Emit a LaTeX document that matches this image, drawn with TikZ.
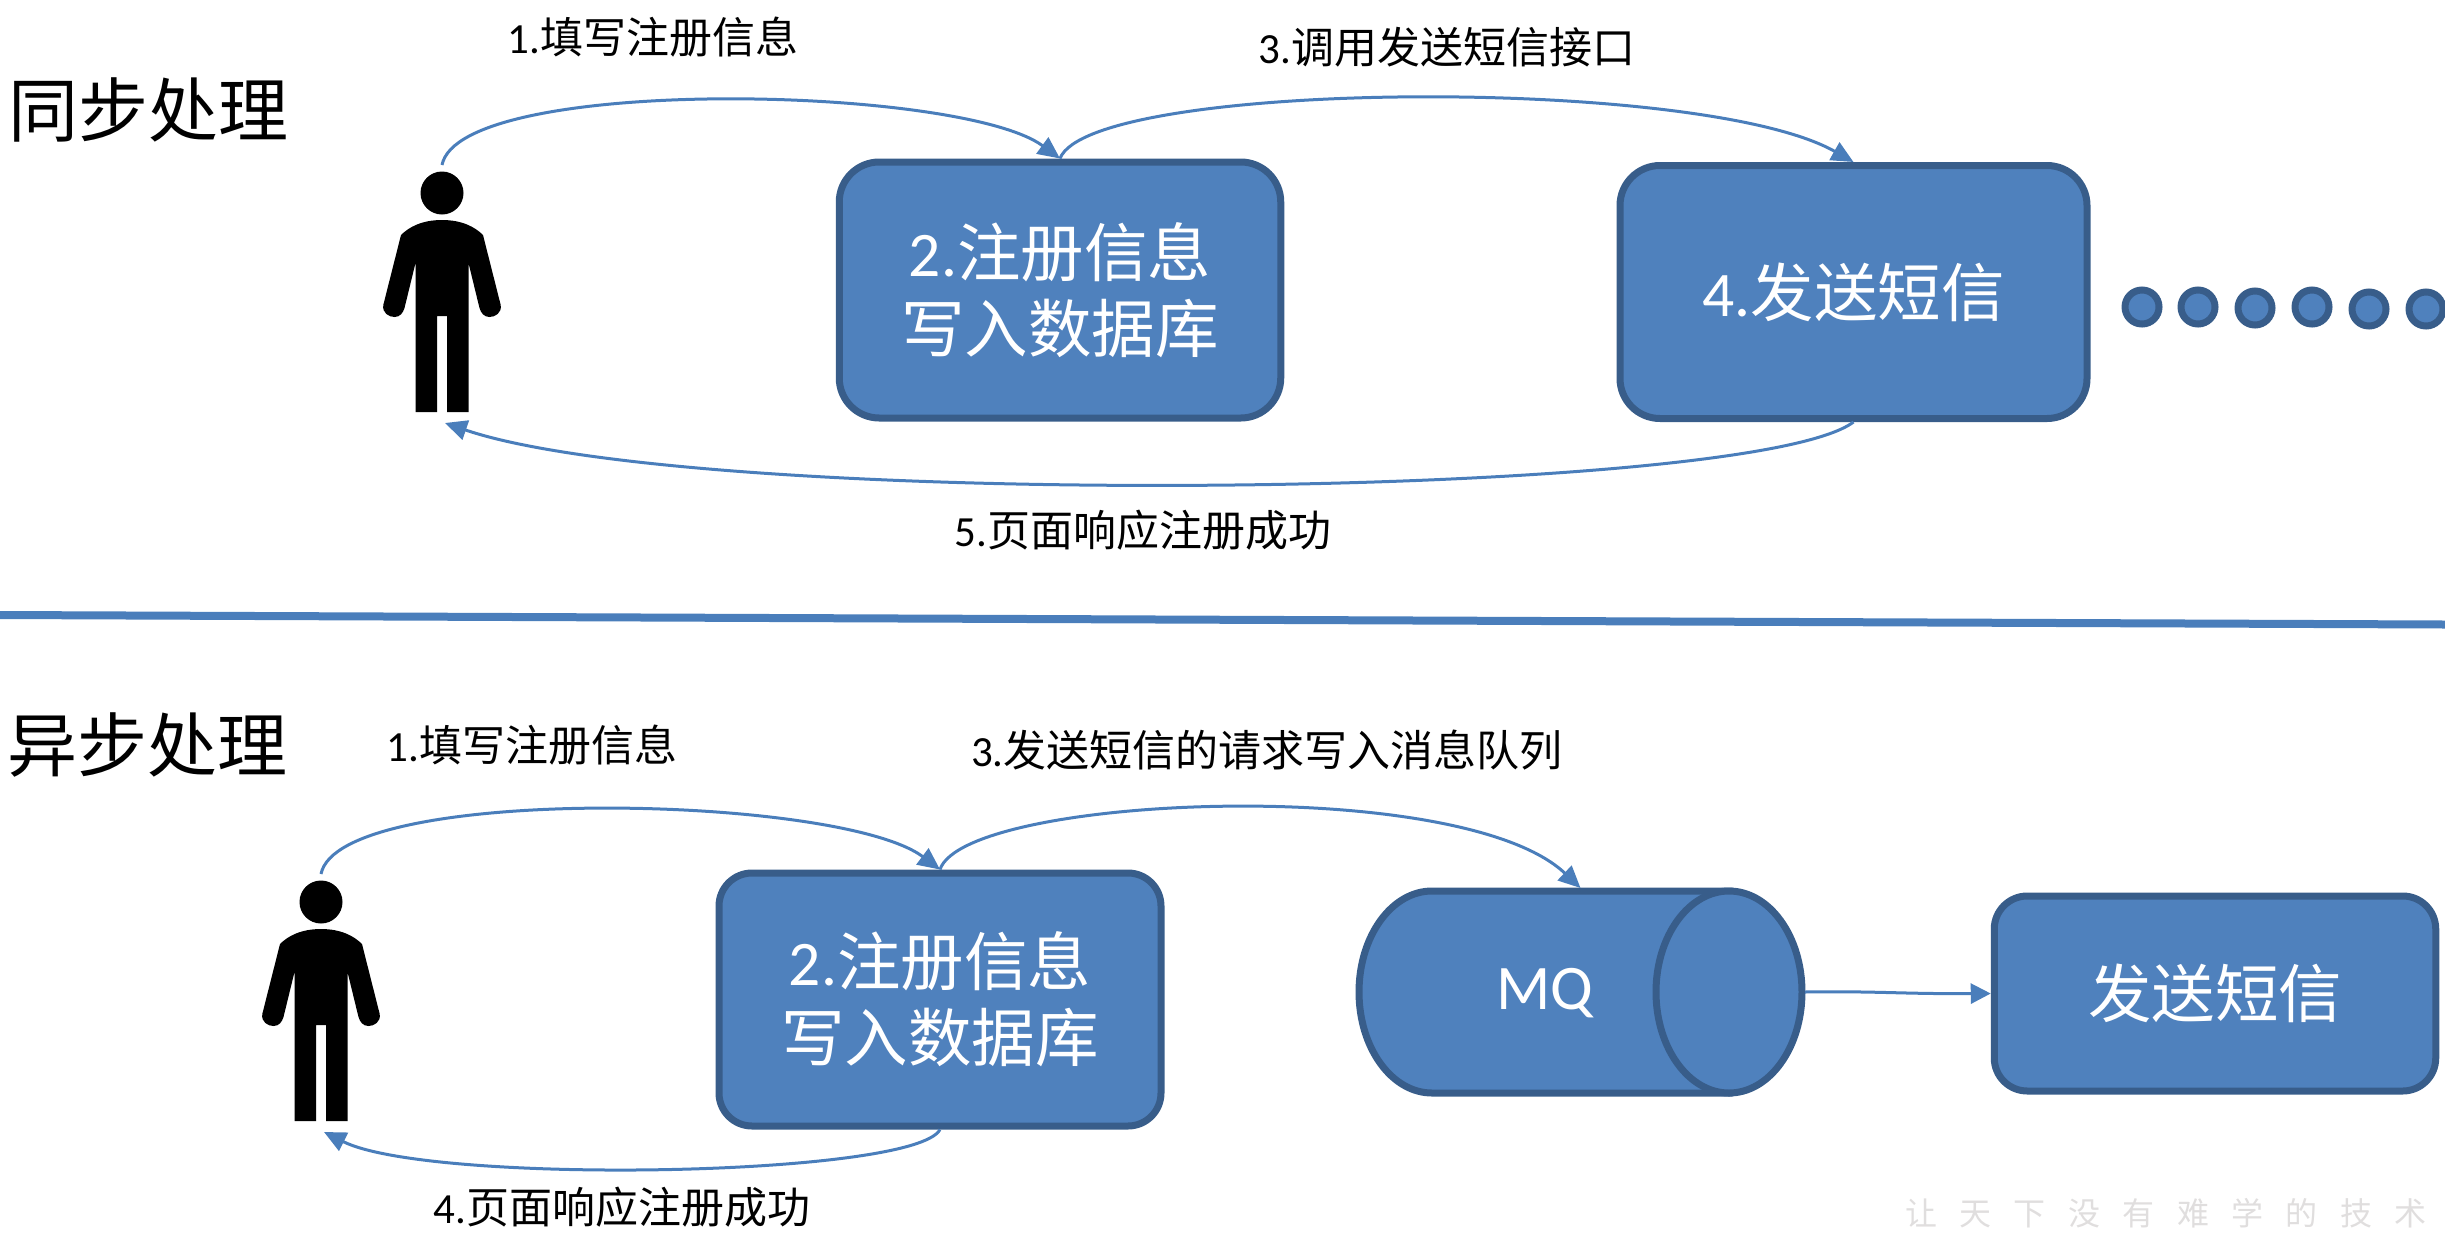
\documentclass[tikz,border=0pt]{standalone}
\usepackage{fontspec}
\setmainfont{Carlito}
\newfontfamily\cjk{Noto Sans CJK SC}
\newfontfamily\wmfont[LetterSpace=70]{Noto Sans CJK SC}
\usetikzlibrary{arrows.meta,shapes.geometric}
\definecolor{boxfill}{HTML}{4F81BD}
\definecolor{boxline}{HTML}{385D8A}
\definecolor{flowline}{HTML}{4A7EBB}
\definecolor{wmgray}{HTML}{E0DEDE}
\tikzset{
    x=1pt, y=-1pt,
    procbox/.style={draw=boxline, fill=boxfill, line width=7pt, rounded corners=40pt, text=white,
        align=center, inner sep=0pt, font=\fontsize{63.5}{76}\selectfont},
    cylpart/.style={draw=boxline, fill=boxfill, line width=7pt},
    flow/.style={draw=flowline, line width=3pt, -{Triangle[length=22pt,width=20pt]}},
    steplabel/.style={inner sep=0pt, font=\fontsize{43}{43}\selectfont},
    titlelabel/.style={inner sep=0pt, font=\fontsize{70}{70}\selectfont\cjk},
    dot/.style={circle, draw=boxline, fill=boxfill, line width=7pt, minimum size=34pt, inner sep=0pt},
    person/.pic={
        \fill[black] (0,0) circle (21.5);
        \fill[black] (0,27) .. controls (-20,27) and (-33,34) .. (-41,42)
            -- (-58.7,112) .. controls (-60,120) and (-53,124) .. (-47.5,124)
            .. controls (-42,124) and (-39,120) .. (-37.5,115)
            -- (-26.5,70) -- (-26.5,219) -- (-5,219) -- (-5,123) -- (5,123) -- (5,219) -- (26.5,219) -- (26.5,70)
            -- (37.5,115) .. controls (39,120) and (42,124) .. (47.5,124)
            .. controls (53,124) and (60,120) .. (58.7,112)
            -- (41,42) .. controls (33,34) and (20,27) .. (0,27) -- cycle;
        \coordinate (-head) at (0,-28);
        \coordinate (-feet) at (3,230);
    },
}
\begin{document}
\begin{tikzpicture}
    \useasboundingbox (0,0) rectangle (2445,1235);

    % sync
    \node[titlelabel] (synctitle) at (149,110) {同步处理};
    \pic (usera) at (442,193) {person};
    \node[procbox, minimum width=441.5pt, minimum height=256pt] (dba) at (1060,290) {2.{\cjk 注册信息}\\{\cjk 写入数据库}};
    \node[procbox, minimum width=467pt, minimum height=253pt] (sms) at (1853.5,292) {4.{\cjk 发送短信}};
    \foreach \i/\px/\py in {1/2142/307, 2/2198/307, 3/2255/308, 4/2312/307, 5/2369/309, 6/2426/309}
        \node[dot] (dot\i) at (\px,\py) {};

    \draw[flow] (usera-head) .. controls (460,75) and (960,85) .. (dba.north);
    \draw[flow] (dba.north) .. controls (1090,80) and (1700,75) .. (sms.north);
    \draw[flow] (sms.south) .. controls (1750,500) and (700,510) .. (usera-feet);
    \node[steplabel] (stepa) at (653,37) {1.{\cjk 填写注册信息}};
    \node[steplabel] (stepb) at (1447,47) {3.{\cjk 调用发送短信接口}};
    \node[steplabel] (stepc) at (1143,530) {5.{\cjk 页面响应注册成功}};

    % divider
    \coordinate (divl) at (0,615);
    \coordinate (divr) at (2445,624.5);
    \draw[flowline, line width=8pt] (divl) -- (divr);

    % async
    \node[titlelabel] (asynctitle) at (148,745) {异步处理};
    \pic (userb) at (321,902) {person};
    \node[procbox, rounded corners=33pt, minimum width=442pt, minimum height=253pt] (dbb) at (940,999.5) {2.{\cjk 注册信息}\\{\cjk 写入数据库}};
    \node[inner sep=0pt, outer sep=0pt, minimum width=449pt, minimum height=208pt] (mq) at (1580.5,992) {};
    \draw[cylpart] (1729,891) -- (1432,891) arc[start angle=90, end angle=270, x radius=73pt, y radius=101pt] -- (1729,1093) -- cycle;
    \node[cylpart, ellipse, inner sep=0pt, minimum width=146pt, minimum height=202pt] (mqcap) at (1729,992) {};
    \node[text=white, inner sep=0pt, font=\fontsize{63.5}{63.5}\selectfont] (mqlabel) at (1545,993) {MQ};
    \node[procbox, rounded corners=33pt, minimum width=441.5pt, minimum height=195pt] (send) at (2215,993.5) {{\cjk 发送短信}};

    \draw[flow] (userb-head) .. controls (339,784) and (839,794) .. (dbb.north);
    \draw[flow] (dbb.north) .. controls (965,795) and (1460,774) .. (mq.north);
    \draw[flow, -{Triangle[length=20pt,width=20pt]}] (mq.east) .. controls (1880,991) and (1900,994) .. (send.west);
    \draw[flow] (dbb.south) .. controls (915,1177) and (430,1185) .. (userb-feet);
    \node[steplabel] (stepd) at (532,745) {1.{\cjk 填写注册信息}};
    \node[steplabel] (stepe) at (1267,750) {3.{\cjk 发送短信的请求写入消息队列}};
    \node[steplabel] (stepf) at (622,1207) {4.{\cjk 页面响应注册成功}};

    \node[anchor=north west, inner sep=0pt, text=wmgray, font=\fontsize{32}{32}\selectfont\wmfont] (mark) at (1905,1198) {让天下没有难学的技术};
\end{tikzpicture}
\end{document}
